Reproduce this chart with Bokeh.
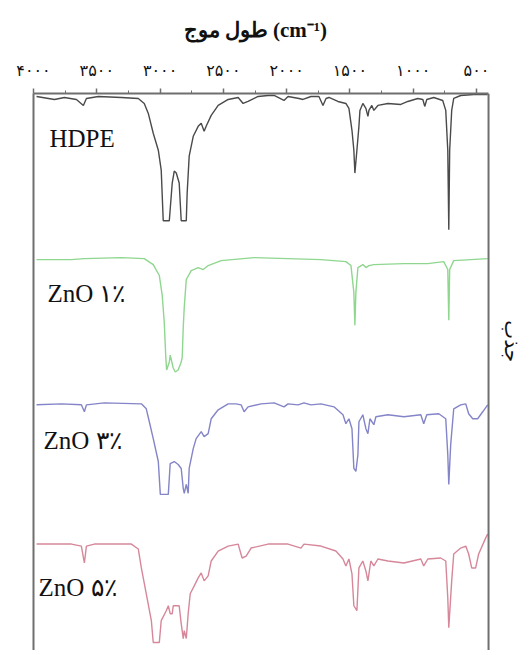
import math
from bokeh.plotting import figure
from bokeh.models import Range1d, LinearAxis, FixedTicker, Label, Span
from bokeh.embed import file_html
from bokeh.resources import INLINE

# ---- data (wavenumber cm^-1, transmittance in arbitrary offset units) ----
wn_hdpe = [3976, 3834, 3756, 3661, 3606, 3582, 3487, 3306, 3172, 3125,
           3093, 3054, 3014, 2991, 2975, 2927, 2904, 2888, 2872, 2849,
           2833, 2793, 2786, 2770, 2738, 2699, 2675, 2652, 2636, 2596,
           2541, 2462, 2383, 2344, 2305, 2226, 2147, 2099, 2021, 1989,
           1902, 1871, 1808, 1745, 1713, 1689, 1666, 1595, 1532, 1508,
           1484, 1469, 1461, 1445, 1429, 1421, 1398, 1374, 1358, 1350,
           1327, 1311, 1279, 1200, 1098, 1043, 964, 924, 909, 893,
           838, 767, 743, 727, 719, 712, 696, 680, 625, 522, 412]
t_hdpe = [562, 559, 561, 559, 553, 560, 562, 561, 560, 555,
          545, 525, 508, 488, 437, 437, 475, 487, 485, 475,
          437, 437, 465, 502, 522, 532, 535, 527, 532, 543,
          553, 559, 561, 555, 557, 562, 563, 563, 558, 562,
          560, 559, 562, 562, 553, 560, 561, 557, 555, 550,
          528, 508, 485, 508, 532, 548, 555, 550, 542, 548,
          553, 548, 553, 555, 554, 557, 560, 559, 552, 559,
          561, 558, 548, 508, 428, 508, 548, 560, 563, 564, 564]

wn_zno1 = [3976, 3700, 3598, 3306, 3125, 3054, 3006, 2983, 2967, 2955,
           2948, 2927, 2920, 2896, 2880, 2857, 2833, 2825, 2817, 2809,
           2793, 2754, 2699, 2659, 2620, 2517, 2257, 1989, 1729, 1532,
           1492, 1469, 1461, 1453, 1437, 1398, 1374, 1350, 1311, 1074,
           885, 759, 727, 719, 712, 680, 546, 412]
t_zno1 = [398, 398, 399, 400, 399, 393, 382, 362, 335, 300,
          287, 295, 302, 289, 285, 287, 295, 300, 330, 350,
          378, 387, 390, 388, 392, 397, 400, 399, 398, 396,
          392, 365, 332, 365, 390, 393, 390, 392, 393, 394,
          394, 396, 388, 337, 388, 397, 398, 399]

wn_zno3 = [3976, 3779, 3622, 3598, 3582, 3440, 3148, 3109, 3085, 3054,
           3014, 2998, 2935, 2920, 2888, 2857, 2833, 2817, 2809, 2793,
           2778, 2770, 2738, 2715, 2675, 2652, 2620, 2596, 2541, 2462,
           2399, 2360, 2336, 2305, 2202, 2099, 2021, 1989, 1910, 1863,
           1808, 1729, 1626, 1555, 1532, 1508, 1484, 1469, 1453, 1437,
           1429, 1398, 1374, 1358, 1342, 1311, 1295, 1200, 1074, 940,
           917, 893, 798, 743, 727, 719, 704, 680, 625, 585,
           562, 530, 491, 451, 412]
t_zno3 = [252, 253, 252, 245, 252, 254, 253, 248, 235, 218,
          195, 162, 162, 193, 195, 192, 188, 168, 163, 172,
          163, 188, 208, 218, 225, 220, 223, 238, 247, 253,
          253, 252, 245, 250, 253, 254, 250, 253, 252, 254,
          252, 253, 250, 242, 233, 238, 228, 188, 185, 202,
          235, 242, 228, 223, 238, 232, 240, 242, 240, 242,
          233, 242, 243, 238, 202, 172, 212, 248, 252, 253,
          243, 238, 238, 245, 252]

wn_zno5 = [3976, 3700, 3622, 3598, 3582, 3519, 3227, 3172, 3148, 3109,
           3069, 3054, 3006, 2991, 2951, 2935, 2920, 2904, 2896, 2849,
           2833, 2817, 2809, 2793, 2778, 2762, 2730, 2699, 2675, 2652,
           2620, 2596, 2541, 2462, 2383, 2352, 2320, 2281, 2147, 1989,
           1887, 1863, 1729, 1611, 1555, 1532, 1508, 1484, 1469, 1445,
           1429, 1398, 1374, 1358, 1335, 1311, 1279, 1200, 1074, 940,
           917, 885, 783, 743, 727, 719, 696, 680, 625, 585,
           562, 538, 507, 483, 428, 412]
t_zno5 = [112, 112, 110, 93, 110, 112, 112, 107, 88, 62,
          35, 13, 13, 35, 45, 50, 42, 42, 50, 50,
          32, 17, 25, 17, 42, 62, 70, 78, 83, 75,
          80, 95, 105, 110, 112, 98, 100, 108, 112, 112,
          108, 112, 110, 105, 97, 90, 97, 82, 50, 45,
          88, 95, 85, 75, 95, 90, 97, 95, 93, 97,
          90, 97, 98, 95, 58, 28, 75, 102, 108, 110,
          102, 88, 88, 102, 118, 122]

series_names = ["HDPE", "ZnO ۱٪", "ZnO ۳٪", "ZnO ۵٪"]
series_colors = ["#4a4a4a", "#8fd68f", "#8484c8", "#d6879a"]
label_x = [3874, 3890, 3921, 3960]
label_y = [520, 364, 216, 68]

tick_values = [4000, 3500, 3000, 2500, 2000, 1500, 1000, 500]
tick_labels = ["۴۰۰۰", "۳۵۰۰", "۳۰۰۰", "۲۵۰۰", "۲۰۰۰", "۱۵۰۰", "۱۰۰۰", "۵۰۰"]
minor_values = [3750, 3250, 2750, 2250, 1750, 1250, 750]

x_start, x_end = 4000, 405          # spectral window shown in the frame
x_title = "طول موج (cm⁻¹)"
y_title = "جذب"

p = figure(width=525, height=650, output_backend="svg", toolbar_location=None,
           x_range=Range1d(4000, 113), y_range=Range1d(5, 565),
           x_axis_location="above", y_axis_location=None,
           min_border_left=33, min_border_right=0, min_border_top=90,
           min_border_bottom=0)
p.outline_line_color = None
p.grid.visible = False
p.background_fill_color = "white"

p.title.text = x_title
p.title.align = "left"
p.title.offset = 150
p.title.standoff = 31
p.title.text_font = "Liberation Serif"
p.title.text_font_style = "bold"
p.title.text_font_size = "21px"
p.title.text_color = "#111111"

ax = p.xaxis[0]
ax.bounds = (x_end, x_start)
ax.ticker = FixedTicker(ticks=tick_values, minor_ticks=minor_values)
ax.major_label_overrides = {v: s for v, s in zip(tick_values, tick_labels)}
ax.axis_line_color = "#6f6f6f"
ax.axis_line_width = 2
ax.major_tick_line_color = "#6f6f6f"
ax.major_tick_line_width = 1.5
ax.major_tick_out = 5
ax.major_tick_in = 0
ax.minor_tick_line_color = "#6f6f6f"
ax.minor_tick_out = 3
ax.minor_tick_in = 0
ax.major_label_standoff = 9
ax.major_label_text_font = "DejaVu Sans"
ax.major_label_text_font_size = "16px"
ax.major_label_text_color = "#111111"

left_ax = LinearAxis(ticker=FixedTicker(ticks=[]), axis_line_color="#6f6f6f",
                     axis_line_width=2, major_tick_line_color=None,
                     minor_tick_line_color=None)
p.add_layout(left_ax, "left")
p.add_layout(Span(location=x_end, dimension="height", line_color="#6f6f6f",
                  line_width=2))

spectra = [(wn_hdpe, t_hdpe), (wn_zno1, t_zno1), (wn_zno3, t_zno3), (wn_zno5, t_zno5)]
for (wn, t), color in zip(spectra, series_colors):
    p.line(wn, t, line_color=color, line_width=1.4)

for name, lx, ly in zip(series_names, label_x, label_y):
    p.add_layout(Label(x=lx, y=ly, text=name, text_font="Liberation Serif",
                       text_font_size="25px", text_color="#111111",
                       text_align="left", text_baseline="alphabetic"))

p.add_layout(Label(x=223, y=316, text=y_title, angle=-math.pi / 2,
                   text_font="DejaVu Sans", text_font_size="20px",
                   text_color="#111111", text_align="center",
                   text_baseline="middle"))

open("out.html", "w").write(file_html(p, INLINE))
